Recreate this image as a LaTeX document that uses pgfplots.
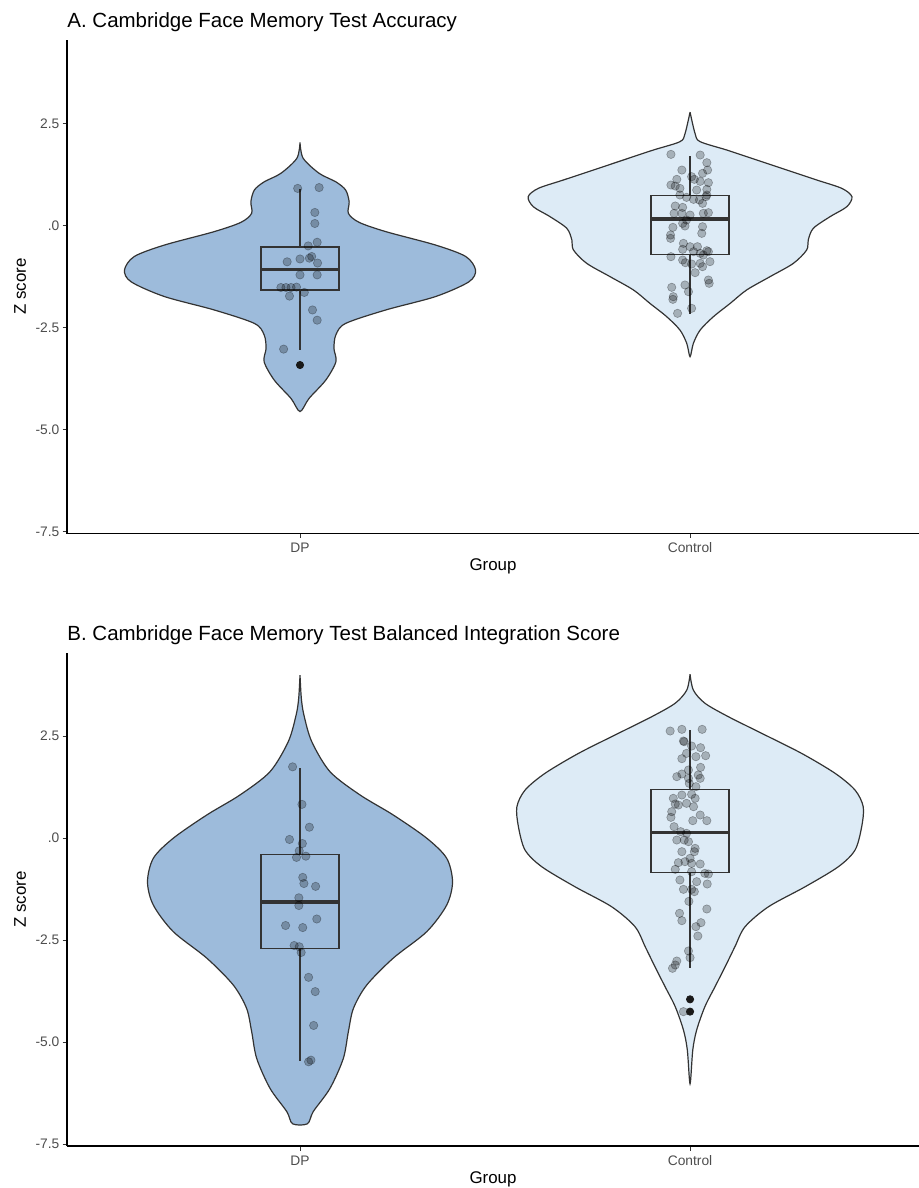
\documentclass[border=0pt]{standalone}
\usepackage{fontspec}
\setmainfont{Liberation Sans}
\usepackage{pgfplots}
\pgfplotsset{compat=1.18}
\usepgfplotslibrary{statistics}
\definecolor{dpfill}{HTML}{9DBBDB}
\definecolor{ctfill}{HTML}{DDEBF6}
\definecolor{edge}{HTML}{333333}
\definecolor{ticktext}{HTML}{4D4D4D}
\pgfplotsset{
 panel/.style={
  scale only axis, width=426pt, height=246.8pt,
  xmin=0.4026, xmax=2.587, ymin=-7.55, ymax=4.55,
  axis lines*=left,
  axis line style={line width=0.8pt, black},
  xtick={1,2}, xticklabels={DP,Control},
  ytick={-7.5,-5,-2.5,0,2.5}, yticklabels={-7.5,-5.0,-2.5,.0,2.5},
  tick align=outside, major tick length=2.2pt,
  tick style={edge, line width=0.5pt},
  ticklabel style={font=\fontsize{6.9}{8}\selectfont, text=ticktext},
  xticklabel style={yshift=1pt},
  yticklabel style={xshift=1.9pt},
  xlabel={Group}, ylabel={Z score},
  label style={font=\fontsize{8.45}{10}\selectfont},
  xlabel style={at={(axis description cs:0.5,0)}, anchor=center, yshift=-16.5pt},
  ylabel style={at={(axis description cs:-0.0398,0.5)}, anchor=south},
  title style={at={(axis description cs:0,1)}, anchor=base west, inner sep=0pt, yshift=0.2pt, font=\fontsize{10.25}{12}\selectfont},
 },
 violin/.style={draw=edge, line width=0.6pt, smooth, tension=0.5},
 jit/.style={only marks, mark=*, mark size=2.1pt, mark options={fill=black, fill opacity=0.25, draw=black, draw opacity=0.3, line width=0.3pt}},
 outl/.style={only marks, mark=*, mark size=1.8pt, mark options={fill=black!90, draw=black!90}},
 bx/.style={draw=edge, line width=0.8pt, boxplot/draw direction=y, boxplot/every median/.style={line width=1.7pt}, boxplot/every whisker/.style={line width=0.7pt}},
}
\begin{document}
\begin{tikzpicture}
\path[use as bounding box] (0,0) rectangle (459.5pt,-594pt);
% ---------------- Panel A ----------------
\begin{axis}[panel, at={(33.5pt,-266.75pt)}, anchor=south west,
  title={A. Cambridge Face Memory Test Accuracy}]
\addplot[violin, fill=dpfill] coordinates {
(1,2.04) (1.008,1.65) (1.049,1.28) (1.092,1.07) (1.117,0.87) (1.126,0.58) (1.124,0.30) (1.151,0.08) (1.220,-0.15) (1.348,-0.48) (1.425,-0.76) (1.450,-1.09) (1.433,-1.38) (1.348,-1.74) (1.220,-2.07) (1.117,-2.40) (1.092,-2.68) (1.087,-3.01) (1.092,-3.34) (1.066,-3.79) (1.023,-4.24) (1,-4.56)
(0.977,-4.24) (0.934,-3.79) (0.908,-3.34) (0.913,-3.01) (0.908,-2.68) (0.883,-2.40) (0.780,-2.07) (0.652,-1.74) (0.567,-1.38) (0.550,-1.09) (0.575,-0.76) (0.652,-0.48) (0.780,-0.15) (0.849,0.08) (0.876,0.30) (0.874,0.58) (0.883,0.87) (0.908,1.07) (0.951,1.28) (0.992,1.65) (1,2.04)};
\addplot[violin, fill=ctfill] coordinates {
(2,2.78) (2.013,2.25) (2.026,2.055) (2.094,1.851) (2.171,1.606) (2.248,1.360) (2.325,1.115) (2.389,0.911) (2.415,0.707) (2.402,0.462) (2.359,0.217) (2.316,-0.069) (2.303,-0.355) (2.299,-0.600) (2.265,-0.927) (2.205,-1.254) (2.145,-1.581) (2.103,-1.908) (2.060,-2.234) (2.026,-2.561) (2.0085,-2.888) (2,-3.215)
(1.9915,-2.888) (1.974,-2.561) (1.940,-2.234) (1.897,-1.908) (1.855,-1.581) (1.795,-1.254) (1.735,-0.927) (1.701,-0.600) (1.697,-0.355) (1.684,-0.069) (1.641,0.217) (1.598,0.462) (1.585,0.707) (1.611,0.911) (1.675,1.115) (1.752,1.360) (1.829,1.606) (1.906,1.851) (1.974,2.055) (1.987,2.25) (2,2.78)};
\addplot[bx, boxplot prepared={draw position=1, lower whisker=-3.047, lower quartile=-1.577, median=-1.078, upper quartile=-0.531, upper whisker=0.899, box extend=0.2, whisker extend=0}] coordinates {};
\addplot[bx, boxplot prepared={draw position=2, lower whisker=-2.165, lower quartile=-0.711, median=0.163, upper quartile=0.735, upper whisker=1.716, box extend=0.2, whisker extend=0}] coordinates {};
\addplot[jit] coordinates {
(0.994,0.91) (1.049,0.93) (1.038,0.32) (1.038,0.05) (1.044,-0.41) (1.021,-0.50) (1.030,-0.76) (1.024,-0.80) (1.000,-0.82) (0.967,-0.89) (1.045,-0.92) (1.000,-1.21) (1.044,-1.21) (0.951,-1.52) (0.964,-1.52) (0.977,-1.52) (0.991,-1.51) (1.011,-1.64) (0.973,-1.73) (1.032,-2.07) (1.044,-2.32) (0.958,-3.03)};
\addplot[jit] coordinates {
(1.951,1.744) (2.026,1.728) (2.043,1.540) (1.979,1.360) (2.045,1.360) (2.032,1.279) (2.004,1.197) (1.966,1.132) (2.011,1.132) (2.026,1.082) (2.047,1.050) (1.951,0.993) (1.962,0.968) (1.974,0.911) (2.043,0.886) (2.017,0.870) (1.974,0.748) (1.991,0.690) (2.009,0.641) (2.024,0.625) (2.043,0.748) (2.041,0.707) (2.032,0.543) (1.962,0.478) (1.981,0.445) (1.959,0.298) (1.979,0.298) (2.047,0.315) (2.034,0.298) (2.000,0.257) (1.991,0.135) (1.981,0.053) (1.956,-0.045) (1.987,-0.012) (2.032,-0.029) (1.950,-0.233) (1.950,-0.315) (2.030,-0.192) (1.983,-0.437) (2.000,-0.519) (2.019,-0.519) (1.981,-0.584) (2.009,-0.641) (2.026,-0.682) (2.043,-0.617) (2.047,-0.641) (2.034,-0.723) (1.951,-0.764) (1.981,-0.846) (1.988,-0.911) (2.004,-0.944) (2.026,-0.927) (2.051,-0.886) (2.032,-1.009) (2.013,-1.156) (2.047,-1.336) (2.049,-1.417) (1.987,-1.458) (1.953,-1.515) (1.996,-1.622) (1.957,-1.744) (1.956,-1.810) (2.004,-2.030) (1.968,-2.153)};
\addplot[outl] coordinates {(1,-3.42)};
\end{axis}
% ---------------- Panel B ----------------
\begin{axis}[panel, at={(33.5pt,-573.1pt)}, anchor=south west,
  title={B. Cambridge Face Memory Test Balanced Integration Score}]
\addplot[violin, fill=dpfill] coordinates {
(1,4.00) (1.0034,3.43) (1.010,3.02) (1.030,2.37) (1.077,1.63) (1.154,1.06) (1.239,0.57) (1.325,0.00) (1.376,-0.49) (1.391,-1.07) (1.376,-1.64) (1.325,-2.29) (1.239,-2.94) (1.171,-3.60) (1.137,-4.17) (1.124,-4.74) (1.111,-5.40) (1.077,-6.13) (1.034,-6.70) (1.019,-7.00)
(0.981,-7.00) (0.966,-6.70) (0.923,-6.13) (0.889,-5.40) (0.876,-4.74) (0.863,-4.17) (0.829,-3.60) (0.761,-2.94) (0.675,-2.29) (0.624,-1.64) (0.609,-1.07) (0.624,-0.49) (0.675,0.00) (0.761,0.57) (0.846,1.06) (0.923,1.63) (0.970,2.37) (0.990,3.02) (0.9966,3.43) (1,4.00)};
\addplot[violin, fill=ctfill] coordinates {
(2,4.02) (2.0085,3.63) (2.038,3.31) (2.098,2.98) (2.184,2.57) (2.286,2.08) (2.372,1.59) (2.423,1.18) (2.444,0.77) (2.440,0.28) (2.423,-0.29) (2.380,-0.70) (2.295,-1.19) (2.201,-1.68) (2.141,-2.17) (2.115,-2.66) (2.090,-3.15) (2.064,-3.64) (2.038,-4.13) (2.017,-4.70) (2.007,-5.19) (2,-6.02)
(1.993,-5.19) (1.983,-4.70) (1.962,-4.13) (1.936,-3.64) (1.910,-3.15) (1.885,-2.66) (1.859,-2.17) (1.799,-1.68) (1.705,-1.19) (1.620,-0.70) (1.577,-0.29) (1.560,0.28) (1.556,0.77) (1.577,1.18) (1.628,1.59) (1.714,2.08) (1.816,2.57) (1.902,2.98) (1.962,3.31) (1.9915,3.63) (2,4.02)};
\addplot[bx, boxplot prepared={draw position=1, lower whisker=-5.46, lower quartile=-2.70, median=-1.56, upper quartile=-0.40, upper whisker=1.73, box extend=0.2, whisker extend=0}] coordinates {};
\addplot[bx, boxplot prepared={draw position=2, lower whisker=-3.189, lower quartile=-0.836, median=0.144, upper quartile=1.198, upper whisker=2.652, box extend=0.2, whisker extend=0}] coordinates {};
\addplot[jit] coordinates {
(0.981,1.75) (1.005,0.83) (1.024,0.27) (0.973,-0.03) (1.006,-0.13) (0.998,-0.31) (0.991,-0.47) (1.015,-0.44) (1.007,-0.96) (1.010,-1.11) (1.040,-1.18) (0.997,-1.46) (0.997,-1.65) (1.043,-1.98) (0.963,-2.14) (1.007,-2.19) (0.985,-2.63) (0.998,-2.66) (1.003,-2.80) (1.022,-3.41) (1.039,-3.76) (1.035,-4.59) (1.028,-5.44) (1.022,-5.48)};
\addplot[jit] coordinates {
(1.949,2.628) (1.979,2.669) (2.031,2.669) (1.983,2.383) (1.985,2.366) (2.004,2.260) (2.027,2.219) (1.991,2.080) (2.015,1.999) (2.040,2.023) (1.979,1.950) (1.996,1.672) (2.027,1.737) (2.021,1.549) (1.966,1.509) (1.979,1.574) (1.996,1.468) (2.026,1.468) (1.998,1.345) (2.015,1.263) (1.979,1.059) (1.957,0.978) (2.004,1.076) (1.962,0.839) (2.013,0.978) (1.970,0.814) (1.991,0.855) (2.009,0.773) (1.953,0.651) (2.026,0.569) (2.043,0.430) (2.007,0.430) (1.951,0.512) (1.959,0.283) (1.976,0.161) (1.991,0.120) (1.966,-0.044) (1.985,-0.044) (1.996,-0.085) (1.979,-0.330) (2.013,-0.248) (2.011,-0.330) (2.000,-0.493) (1.970,-0.599) (1.987,-0.575) (2.004,-0.616) (2.026,-0.632) (1.962,-0.763) (2.004,-0.820) (2.038,-0.861) (2.047,-0.877) (1.974,-1.024) (2.017,-1.065) (2.044,-1.122) (1.983,-1.253) (2.004,-1.253) (2.011,-1.310) (1.997,-1.547) (2.043,-1.735) (1.973,-1.841) (1.979,-2.021) (2.028,-2.070) (2.015,-2.168) (2.020,-2.397) (1.996,-2.764) (2.000,-2.928) (1.966,-3.010) (1.962,-3.108) (1.955,-3.189) (1.983,-4.251)};
\addplot[outl] coordinates {(2,-3.949) (2,-4.251)};
\end{axis}
\end{tikzpicture}
\end{document}
